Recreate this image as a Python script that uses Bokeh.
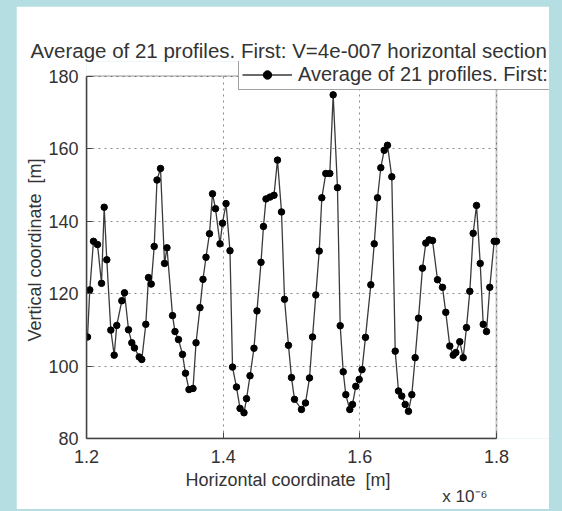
from bokeh.plotting import figure
from bokeh.models import Legend, LegendItem, Range1d, FixedTicker, Title, BoxAnnotation
from bokeh.embed import file_html
from bokeh.resources import INLINE

# Horizontal coordinate (x 1e-6 m) and vertical coordinate (m)
x_pos = [1.2015, 1.2048, 1.2102, 1.2161, 1.2220, 1.2259, 1.2297, 1.2356, 1.2405, 1.2443,
         1.2517, 1.2556, 1.2615, 1.2663, 1.2702, 1.2771, 1.2809, 1.2868, 1.2907, 1.2947,
         1.2991, 1.3032, 1.3083, 1.3142, 1.3178, 1.3259, 1.3295, 1.3346, 1.3405, 1.3449,
         1.3500, 1.3559, 1.3603, 1.3661, 1.3705, 1.3749, 1.3800, 1.3844, 1.3888, 1.3954,
         1.3990, 1.4042, 1.4100, 1.4137, 1.4195, 1.4247, 1.4305, 1.4342, 1.4393, 1.4451,
         1.4495, 1.4554, 1.4590, 1.4627, 1.4686, 1.4744, 1.4795, 1.4854, 1.4898, 1.4956,
         1.5000, 1.5044, 1.5146, 1.5205, 1.5264, 1.5308, 1.5356, 1.5406, 1.5444, 1.5502,
         1.5561, 1.5610, 1.5673, 1.5713, 1.5757, 1.5795, 1.5853, 1.5893, 1.5941, 1.5991,
         1.6032, 1.6083, 1.6161, 1.6211, 1.6259, 1.6307, 1.6357, 1.6405, 1.6468, 1.6518,
         1.6566, 1.6614, 1.6664, 1.6712, 1.6761, 1.6810, 1.6859, 1.6917, 1.6966, 1.7015,
         1.7064, 1.7137, 1.7210, 1.7258, 1.7317, 1.7367, 1.7405, 1.7463, 1.7513, 1.7561,
         1.7610, 1.7659, 1.7708, 1.7762, 1.7806, 1.7854, 1.7902, 1.7967, 1.8000]
v_pos = [108.0, 121.0, 134.4, 133.5, 122.8, 143.8, 129.3, 109.9, 103.0, 111.2,
         118.0, 120.2, 110.0, 106.4, 105.0, 102.5, 101.8, 111.5, 124.4, 122.6,
         133.0, 151.3, 154.5, 128.3, 132.6, 113.9, 109.5, 107.3, 103.2, 98.0,
         93.5, 93.8, 106.4, 116.1, 123.9, 130.0, 136.5, 147.5, 143.4, 133.7,
         139.4, 144.8, 131.8, 99.7, 94.2, 88.3, 87.1, 91.0, 97.3, 104.9,
         115.2, 128.6, 138.5, 146.1, 146.6, 147.1, 156.8, 142.5, 118.4, 105.7,
         96.8, 90.8, 88.0, 89.8, 96.7, 108.0, 119.6, 131.7, 146.4, 153.1,
         153.1, 174.8, 149.2, 111.1, 98.4, 92.1, 88.0, 89.4, 94.4, 96.3,
         99.0, 107.9, 122.4, 133.7, 146.4, 154.7, 159.5, 160.9, 152.2, 104.1,
         93.1, 91.7, 89.4, 87.5, 92.1, 102.3, 113.2, 127.0, 133.9, 134.8,
         134.6, 123.8, 121.7, 114.8, 105.5, 103.0, 103.7, 106.7, 102.3, 110.6,
         120.6, 136.6, 144.3, 128.3, 111.5, 109.5, 121.7, 134.4, 134.4]

x_ticks = [1.2, 1.4, 1.6, 1.8]
y_ticks = [80, 100, 120, 140, 160, 180]
x_lim = (1.2, 1.8)
y_lim = (80, 180)

title_text = "Average of 21 profiles. First: V=4e-007 horizontal section"
legend_text = "Average of 21 profiles. First: V=4e-007 horizontal section"
NB = "\u00a0"
# trailing no-break spaces keep the label centred under the axes box, not the wider frame
x_label = "Horizontal coordinate" + NB * 2 + "[m]" + NB * 12
y_label = "Vertical coordinate" + NB * 2 + "[m]"
x_scale_note = "x 10\u207b\u2076"

FONT = "Liberation Sans"
TXT = "#333333"
LINE = "#444444"

# The plotting frame reaches past the axes box (up and to the right) so that the
# legend, which overhangs the box in the original, is not clipped.
p = figure(width=533, height=503, output_backend="svg", toolbar_location=None,
           x_range=Range1d(x_lim[0], 1.8776), y_range=Range1d(y_lim[0], 184.0),
           min_border_left=70, min_border_right=0, min_border_top=55, min_border_bottom=71,
           background_fill_color="white", border_fill_color="white")
p.outline_line_color = None

for ax in (p.xaxis[0], p.yaxis[0]):
    ax.axis_line_color = LINE
    ax.axis_line_width = 1.5
    ax.major_tick_in = 6
    ax.major_tick_out = 0
    ax.major_tick_line_color = LINE
    ax.minor_tick_line_color = None
    ax.major_label_text_font = FONT
    ax.major_label_text_font_size = "18px"
    ax.major_label_text_color = TXT
    ax.axis_label_text_font = FONT
    ax.axis_label_text_font_size = "18px"
    ax.axis_label_text_font_style = "normal"
    ax.axis_label_text_color = TXT

p.xaxis[0].ticker = FixedTicker(ticks=x_ticks)
p.yaxis[0].ticker = FixedTicker(ticks=y_ticks)
p.xaxis[0].bounds = x_lim
p.yaxis[0].bounds = y_lim
p.xaxis[0].axis_label = x_label
p.yaxis[0].axis_label = y_label
p.xaxis[0].major_label_standoff = 11
p.yaxis[0].major_label_standoff = 8
p.xaxis[0].axis_label_standoff = 4
p.yaxis[0].axis_label_standoff = 0

# the axes box (top and right edges)
p.add_layout(BoxAnnotation(left=x_lim[0], right=x_lim[1], bottom=y_lim[0], top=y_lim[1],
                           fill_alpha=0, line_color="#555555", line_width=2, level="underlay"))

p.grid.grid_line_color = "#8a8a8a"
p.grid.grid_line_dash = "2 4"
p.grid.grid_line_width = 1
try:
    p.xgrid.cross_bounds = y_lim
    p.ygrid.cross_bounds = x_lim
except Exception:
    pass

r_line = p.line(x_pos, v_pos, line_color="#3a3a3a", line_width=1.3)
r_pts = p.scatter(x_pos, v_pos, size=6.5, color="black")

legend = Legend(items=[LegendItem(label=legend_text, renderers=[r_line, r_pts])],
                location=(152, 348), margin=0, padding=3, spacing=0,
                glyph_width=50, glyph_height=21, label_standoff=6,
                label_text_font=FONT, label_text_font_size="20px", label_text_color=TXT,
                border_line_color=LINE, border_line_width=1.2,
                background_fill_color="white", background_fill_alpha=1.0)
p.add_layout(legend)

p.title.text = title_text
p.title.align = "left"
p.title.offset = -56
p.title.text_font = FONT
p.title.text_font_size = "20.5px"
p.title.text_font_style = "normal"
p.title.text_color = TXT
p.title.standoff = 0

note = Title(text=x_scale_note, align="right", offset=62, text_font=FONT,
             text_font_size="17px", text_font_style="normal", text_color=TXT)
try:
    note.standoff = -15
except Exception:
    note.standoff = 0
p.add_layout(note, "below")

html = file_html(p, INLINE, title="plot")
style = ("<style>html,body{margin:0 !important;padding:0 !important;background:#b5dee2 !important;"
         "overflow:hidden;} body{padding:6px 0 0 16px !important;}</style>")
html = html.replace("</head>", style + "</head>", 1)
open("out.html", "w").write(html)
